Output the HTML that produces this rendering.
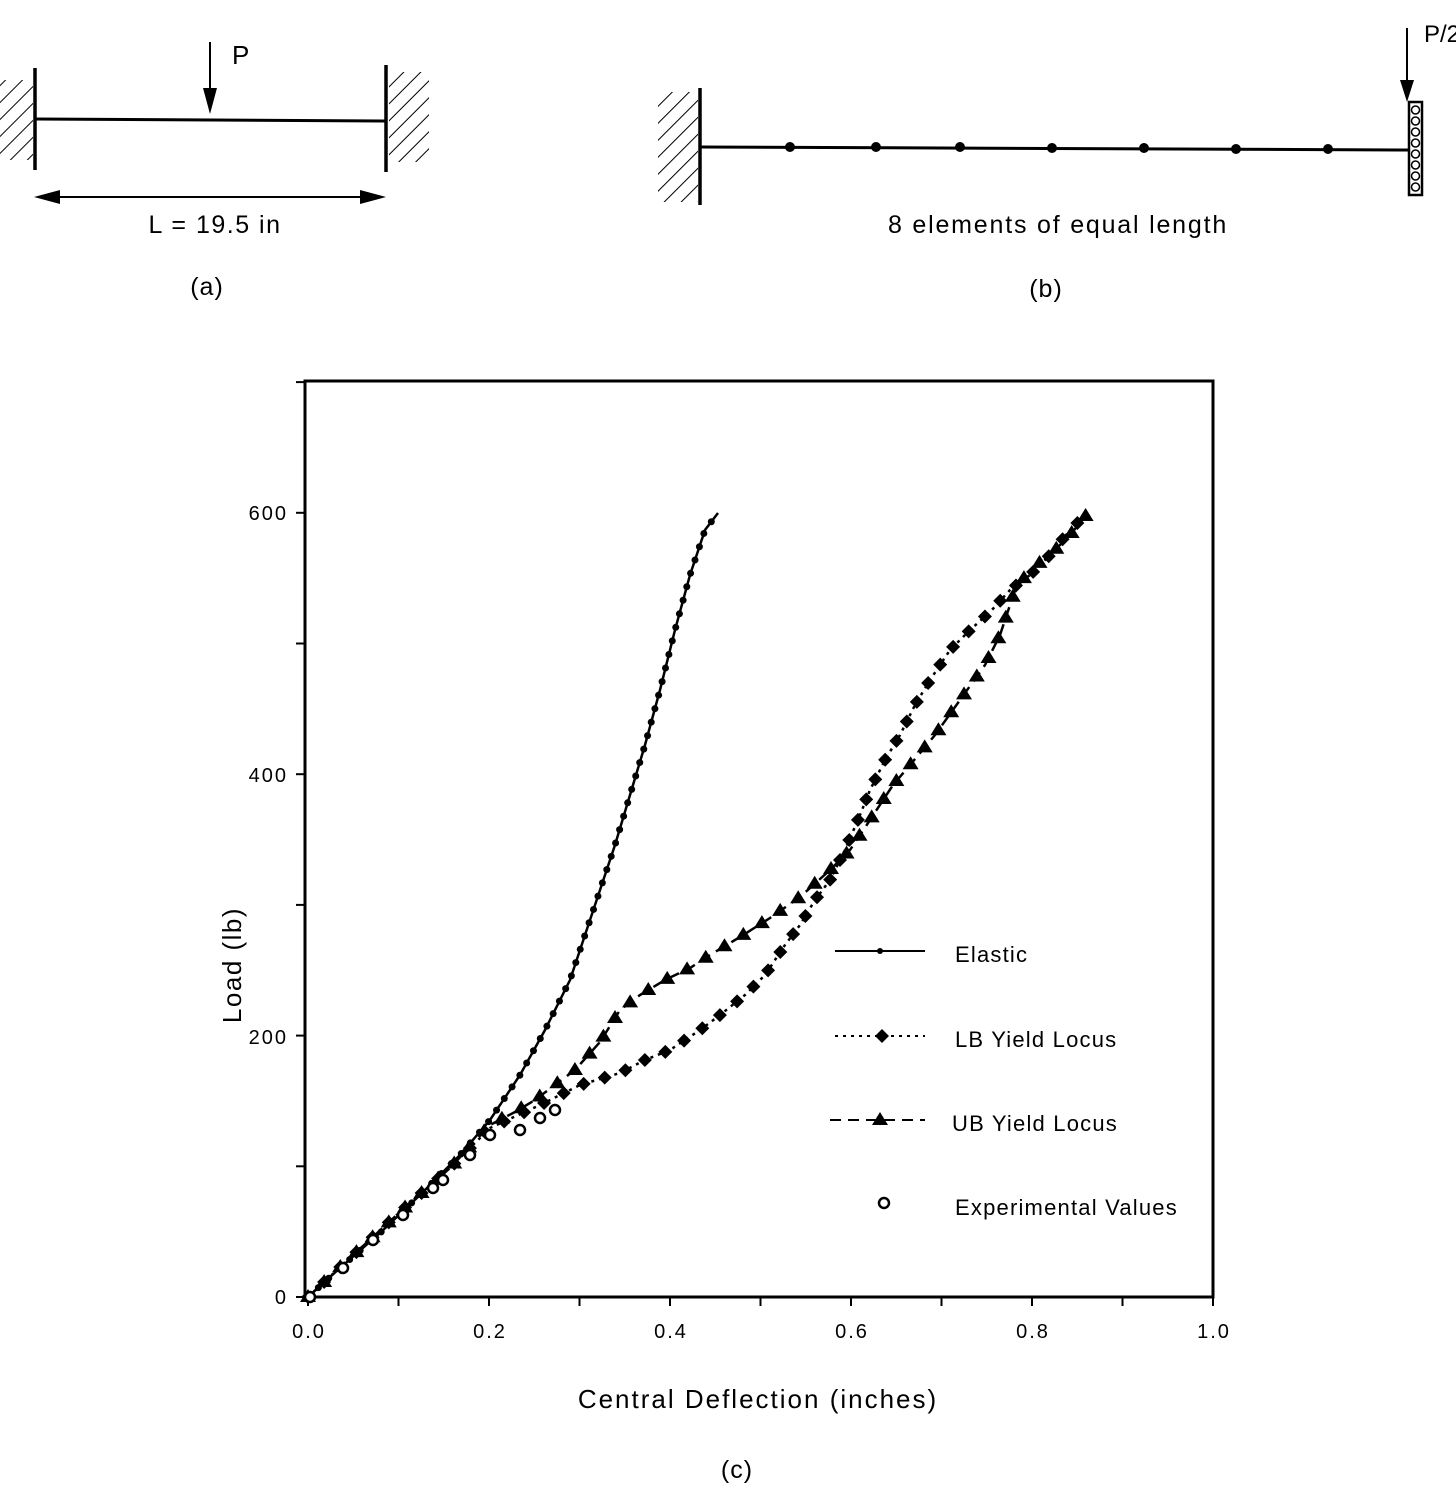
<!DOCTYPE html>
<html><head><meta charset="utf-8"><style>
html,body{margin:0;padding:0;background:#fff}
svg{display:block}
text{font-family:"Liberation Sans",sans-serif;fill:#000}
</style></head><body>
<svg id="s" width="1456" height="1498" viewBox="0 0 1456 1498" xmlns="http://www.w3.org/2000/svg">
<defs>
<pattern id="h" width="12" height="12" patternUnits="userSpaceOnUse" patternTransform="rotate(45)">
<line x1="0" y1="0" x2="0" y2="12" stroke="#000" stroke-width="2"/></pattern>
</defs>
<!-- (a) -->
<rect x="0" y="80" width="33" height="80" fill="url(#h)"/>
<line x1="35" y1="68" x2="35" y2="170" stroke="#000" stroke-width="3.5"/>
<rect x="389" y="72" width="40" height="90" fill="url(#h)"/>
<line x1="386" y1="65" x2="386" y2="172" stroke="#000" stroke-width="3.5"/>
<line x1="35" y1="119" x2="386" y2="121" stroke="#000" stroke-width="3"/>
<line x1="210" y1="42" x2="210" y2="95" stroke="#000" stroke-width="2"/>
<polygon points="203,88 217,88 210,114" fill="#000"/>
<text x="232" y="64" font-size="26">P</text>
<line x1="50" y1="197" x2="372" y2="197" stroke="#000" stroke-width="2"/>
<polygon points="34,197 60,190 60,204" fill="#000"/>
<polygon points="386,197 360,190 360,204" fill="#000"/>
<text x="215" y="233" font-size="25" letter-spacing="1.5" text-anchor="middle">L = 19.5 in</text>
<text x="207" y="295" font-size="25" letter-spacing="1" text-anchor="middle">(a)</text>
<!-- (b) -->
<rect x="658" y="92" width="40" height="110" fill="url(#h)"/>
<line x1="700" y1="88" x2="700" y2="205" stroke="#000" stroke-width="3.5"/>
<line x1="700" y1="147" x2="1410" y2="150" stroke="#000" stroke-width="3"/>
<g fill="#000">
<circle cx="790" cy="147" r="5"/><circle cx="876" cy="147" r="5"/><circle cx="960" cy="147" r="5"/><circle cx="1052" cy="148" r="5"/><circle cx="1144" cy="148" r="5"/><circle cx="1236" cy="149" r="5"/><circle cx="1328" cy="149" r="5"/></g>
<rect x="1409" y="102" width="13" height="93" fill="#fff" stroke="#000" stroke-width="2.5"/>
<g fill="none" stroke="#000" stroke-width="1.5">
<circle cx="1415.5" cy="110" r="4"/><circle cx="1415.5" cy="121" r="4"/><circle cx="1415.5" cy="132" r="4"/><circle cx="1415.5" cy="143" r="4"/><circle cx="1415.5" cy="154" r="4"/><circle cx="1415.5" cy="165" r="4"/><circle cx="1415.5" cy="176" r="4"/><circle cx="1415.5" cy="187" r="4"/></g>
<line x1="1407" y1="28" x2="1407" y2="85" stroke="#000" stroke-width="2"/>
<polygon points="1400,80 1414,80 1407,102" fill="#000"/>
<text x="1424" y="42" font-size="24">P/2</text>
<text x="1058" y="233" font-size="25" letter-spacing="1.8" text-anchor="middle">8 elements of equal length</text>
<text x="1046" y="297" font-size="25" letter-spacing="1" text-anchor="middle">(b)</text>
<!-- plot frame -->
<rect x="305" y="381" width="908" height="916" fill="none" stroke="#000" stroke-width="3"/>
<g id="ticks" stroke="#000" stroke-width="2"></g>
<g font-size="20" letter-spacing="2">
<text x="288" y="1304" text-anchor="end">0</text>
<text x="288" y="1044" text-anchor="end">200</text>
<text x="288" y="782" text-anchor="end">400</text>
<text x="288" y="520" text-anchor="end">600</text>
<text x="309" y="1338" text-anchor="middle">0.0</text>
<text x="490" y="1338" text-anchor="middle">0.2</text>
<text x="671" y="1338" text-anchor="middle">0.4</text>
<text x="852" y="1338" text-anchor="middle">0.6</text>
<text x="1033" y="1338" text-anchor="middle">0.8</text>
<text x="1214" y="1338" text-anchor="middle">1.0</text>
</g>
<text x="0" y="0" font-size="26" letter-spacing="1.5" text-anchor="middle" transform="translate(241,965) rotate(-90)">Load (lb)</text>
<text x="758" y="1408" font-size="26" letter-spacing="2" text-anchor="middle">Central Deflection (inches)</text>
<text x="737" y="1478" font-size="25" letter-spacing="1" text-anchor="middle">(c)</text>
<!-- legend -->
<line x1="835" y1="951" x2="925" y2="951" stroke="#000" stroke-width="2"/><circle cx="880" cy="951" r="3"/>
<g font-size="22" letter-spacing="1.2">
<text x="955" y="962">Elastic</text>
<text x="955" y="1047">LB Yield Locus</text>
<text x="952" y="1131">UB Yield Locus</text>
<text x="955" y="1215">Experimental Values</text>
</g>
<line x1="835" y1="1036" x2="925" y2="1036" stroke="#000" stroke-width="2" stroke-dasharray="3,5"/>
<polygon points="882,1029 889,1036 882,1043 875,1036" fill="#000"/>
<line x1="830" y1="1120" x2="925" y2="1120" stroke="#000" stroke-width="2" stroke-dasharray="11,7"/>
<polygon points="880,1112 888,1125 872,1125" fill="#000"/>
<circle cx="884" cy="1203" r="5" fill="#fff" stroke="#000" stroke-width="2.5"/>
<g id="series"></g>
</svg>
<script>
var NS="http://www.w3.org/2000/svg",s=document.getElementById('series'),tk=document.getElementById('ticks');
function el(n,a,p){var e=document.createElementNS(NS,n);for(var k in a)e.setAttribute(k,a[k]);(p||s).appendChild(e);return e;}
for(var i=0;i<=10;i++){var x=308+90.5*i;el('line',{x1:x,y1:1297,x2:x,y2:1306},tk);}
for(var i=0;i<=7;i++){var y=1297-130.7*i;el('line',{x1:296,y1:y,x2:305,y2:y},tk);}
function pts(a){return a.map(function(p){return p.join(',')}).join(' ');}
function resample(a,step){var out=[a[0]],acc=0;for(var i=1;i<a.length;i++){var x0=a[i-1][0],y0=a[i-1][1],x1=a[i][0],y1=a[i][1],d=Math.hypot(x1-x0,y1-y0),t=step-acc;while(t<=d){out.push([x0+(x1-x0)*t/d,y0+(y1-y0)*t/d]);t+=step;}acc=d-(t-step);}return out;}
var el1=[[308,1297],[340,1268],[380,1233],[420,1195],[460,1155],[490,1120],[520,1075],[545,1030],[570,980],[585,935],[600,890],[615,845],[630,795],[645,745],[660,690],[675,630],[690,575],[705,530],[718,513]];
var lb=[[308,1297],[350,1258],[400,1212],[450,1168],[490,1128],[540,1105],[580,1085],[620,1073],[645,1060],[670,1050],[700,1030],[720,1015],[745,995],[765,975],[785,945],[800,925],[815,900],[830,880],[845,850],[860,815],[870,790],[885,760],[900,735],[915,705],[930,680],[950,650],[970,630],[990,612],[1010,590],[1030,575],[1050,555],[1070,530],[1088,513]];
var ub=[[308,1297],[350,1258],[400,1212],[450,1168],[490,1125],[515,1112],[535,1100],[555,1085],[575,1070],[600,1042],[620,1010],[640,995],[665,980],[690,968],[710,955],[740,937],[770,918],[800,897],[830,870],[850,850],[870,820],[893,785],[910,765],[935,735],[960,700],[985,665],[1000,635],[1015,590],[1030,570],[1050,555],[1070,535],[1088,513]];
el('polyline',{points:pts(el1),fill:'none',stroke:'#000','stroke-width':2.5});
el('polyline',{points:pts(lb),fill:'none',stroke:'#000','stroke-width':2.5,'stroke-dasharray':'3,5'});
el('polyline',{points:pts(ub),fill:'none',stroke:'#000','stroke-width':2.5,'stroke-dasharray':'11,7'});
resample(el1,14).forEach(function(p){el('circle',{cx:p[0],cy:p[1],r:3.5});});
resample(lb,22).forEach(function(p){var x=p[0],y=p[1];el('polygon',{points:(x)+','+(y-7)+' '+(x+7)+','+y+' '+x+','+(y+7)+' '+(x-7)+','+y});});
resample(ub,22).forEach(function(p){var x=p[0],y=p[1];el('polygon',{points:x+','+(y-8)+' '+(x+8)+','+(y+5)+' '+(x-8)+','+(y+5)});});
[[310,1297],[343,1268],[373,1240],[403,1215],[433,1188],[443,1180],[470,1155],[490,1135],[520,1130],[540,1118],[555,1110]].forEach(function(p){el('circle',{cx:p[0],cy:p[1],r:5,fill:'#fff',stroke:'#000','stroke-width':2.5});});
</script>
</body></html>
